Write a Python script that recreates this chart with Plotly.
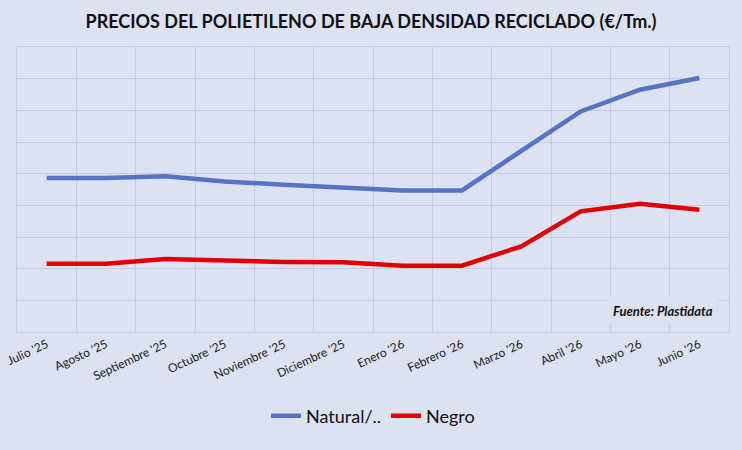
import plotly.graph_objects as go

# months on the x axis
months = ["Julio '25", "Agosto '25", "Septiembre '25", "Octubre '25", "Noviembre '25",
          "Diciembre '25", "Enero '26", "Febrero '26", "Marzo '26", "Abril '26",
          "Mayo '26", "Junio '26"]

# prices (€/Tm.)
natural = [972, 972, 983, 951, 930, 913, 894, 894, 1144, 1393, 1530, 1604]
negro = [431, 431, 461, 450, 442, 440, 419, 419, 541, 762, 810, 772]

bg = '#DCE2F2'
grid = '#C3CCE5'

fig = go.Figure()

fig.add_scatter(
    name='Natural/..',
    x=months,
    y=natural,
    mode='lines',
    line=dict(color='#5673C4', width=4.5),
)

fig.add_scatter(
    name='Negro',
    x=months,
    y=negro,
    mode='lines',
    line=dict(color='#E00000', width=4.5),
)

fig.update_layout(
    width=742,
    height=450,
    paper_bgcolor=bg,
    plot_bgcolor=bg,
    margin=dict(l=17, r=13, t=47, b=118),
    font=dict(family='Lato, sans-serif', color='#1a1a1a'),
    title=dict(
        text='<b>PRECIOS DEL POLIETILENO DE BAJA DENSIDAD RECICLADO (€/Tm.)</b>',
        x=0.5, xanchor='center',
        y=1 - 22 / 450, yanchor='middle', yref='container',
        font=dict(size=18, color='#111111'),
    ),
    showlegend=True,
    legend=dict(
        orientation='h',
        x=0.5, xanchor='center',
        y=-0.295, yanchor='middle',
        font=dict(size=18, color='#111111'),
        bgcolor='rgba(0,0,0,0)',
        itemwidth=30,
    ),
    hovermode=False,
)

fig.update_xaxes(
    type='category',
    tickson='boundaries',
    automargin=False,
    showgrid=True,
    gridcolor=grid,
    gridwidth=1,
    showline=True,
    mirror=True,
    linecolor=grid,
    linewidth=1,
    zeroline=False,
    ticks='',
    tickangle=-25,
    tickfont=dict(size=12, color='#1a1a1a'),
    range=[-0.5, 11.5],
)

fig.update_yaxes(
    range=[0, 1800],
    dtick=200,
    automargin=False,
    showgrid=True,
    gridcolor=grid,
    gridwidth=1,
    showticklabels=False,
    zeroline=False,
    showline=True,
    mirror=True,
    linecolor=grid,
    linewidth=1,
    ticks='',
)

# source note with a box that hides the grid behind it
fig.add_annotation(
    text='<b><i>Fuente: Plastidata</i></b>',
    xref='paper', yref='paper',
    x=0.986, y=0.074,
    xanchor='right', yanchor='middle',
    showarrow=False,
    bgcolor=bg,
    borderpad=5,
    font=dict(size=13, color='#111111'),
)

# drop the default page margin so the chart fills the window
fig.write_html(
    'out.html',
    config=dict(displayModeBar=False),
    post_script="document.body.style.margin='0';document.body.style.background='%s';" % bg,
)
